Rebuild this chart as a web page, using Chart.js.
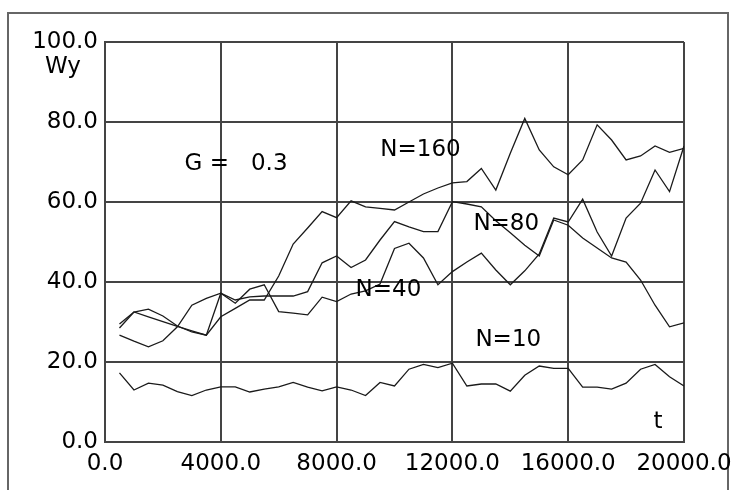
<!DOCTYPE html>
<html>
<head>
<meta charset="utf-8">
<script src="https://cdn.jsdelivr.net/npm/chart.js@4/dist/chart.umd.min.js"></script>
<style>
  html, body { margin: 0; padding: 0; background: #fff; }
  #wrap { width: 731px; height: 490px; }
</style>
</head>
<body>
<div id="wrap"><canvas id="chart" width="731" height="490"></canvas></div>
<script>
// time axis (t)
const tValues = [500, 1000, 1500, 2000, 2500, 3000, 3500, 4000, 4500, 5000,
  5500, 6000, 6500, 7000, 7500, 8000, 8500, 9000, 9500, 10000,
  10500, 11000, 11500, 12000, 12500, 13000, 13500, 14000, 14500, 15000,
  15500, 16000, 16500, 17000, 17500, 18000, 18500, 19000, 19500, 20000];

// Wy for each N
const n10 = [17.3, 13, 14.7, 14.2, 12.6, 11.6, 13, 13.8, 13.8, 12.5,
  13.2, 13.8, 14.9, 13.7, 12.8, 13.8, 13, 11.6, 14.9, 14,
  18.2, 19.4, 18.6, 19.7, 14, 14.5, 14.5, 12.7, 16.7, 19,
  18.4, 18.4, 13.7, 13.7, 13.2, 14.7, 18.2, 19.4, 16.3, 14];
const n40 = [26.7, 25.2, 23.8, 25.3, 28.8, 34.2, 35.9, 37.2, 34.7, 38.2,
  39.3, 32.6, 32.2, 31.8, 36.2, 35.1, 37, 37.8, 39.5, 48.4,
  49.7, 46, 39.3, 42.6, 45, 47.2, 43, 39.3, 42.8, 47,
  56, 55, 60.7, 52.5, 46.5, 56, 59.7, 68, 62.6, 74];
const n80 = [29.5, 32.5, 33.2, 31.5, 29, 27.5, 26.7, 37.2, 35.5, 36.3,
  36.5, 36.5, 36.5, 37.6, 44.8, 46.5, 43.6, 45.5, 50.5, 55.1,
  53.8, 52.6, 52.6, 60.1, 59.5, 58.8, 55.3, 52.3, 49.2, 46.5,
  55.5, 54.2, 51, 48.5, 46, 45, 40.5, 34.2, 28.8, 29.8];
const n160 = [28.5, 32.5, 31.3, 30.1, 28.9, 27.8, 26.7, 31.3, 33.4, 35.5,
  35.5, 41.5, 49.5, 53.5, 57.6, 56.1, 60.3, 58.8, 58.4, 58,
  60, 62, 63.5, 64.8, 65.1, 68.4, 63, 72.2, 80.9, 73,
  68.8, 66.8, 70.5, 79.3, 75.5, 70.5, 71.5, 74, 72.4, 73.4];

const xTicks = [0, 4000, 8000, 12000, 16000, 20000];
const yTicks = [0, 20, 40, 60, 80, 100];

// text written inside the plot, anchored in data units
const noteText = ["N=160", "N=80", "N=40", "N=10", "t", "G =   0.3"];
const noteAt = [[10900, 73], [13860, 54.5], [9790, 38], [13930, 25.5], [19100, 5], [2750, 69.5]];
const noteAlign = ["center", "center", "center", "center", "center", "left"];

const FONT = "DejaVu Sans";
const INK = "#000";

const series = [n10, n40, n80, n160].map(vals => ({
  data: tValues.map((t, i) => ({ x: t, y: vals[i] })),
  borderColor: "#1a1a1a",
  borderWidth: 1.3,
  pointRadius: 0,
  tension: 0,
  fill: false
}));

const frame = {
  id: "frame",
  beforeDraw(chart) {
    const c = chart.ctx;
    c.save();
    c.fillStyle = "#fff";
    c.fillRect(0, 0, chart.width, chart.height);
    c.strokeStyle = "#666";
    c.lineWidth = 2;
    c.strokeRect(8, 13, 720, 484);
    c.restore();
  },
  afterDraw(chart) {
    const c = chart.ctx, xs = chart.scales.x, ys = chart.scales.y;
    c.save();
    c.fillStyle = INK;
    c.font = "23px '" + FONT + "'";
    c.textBaseline = "middle";
    noteText.forEach((txt, i) => {
      c.textAlign = noteAlign[i];
      c.fillText(txt, xs.getPixelForValue(noteAt[i][0]), ys.getPixelForValue(noteAt[i][1]));
    });
    // axis name
    c.textAlign = "left";
    c.fillText("Wy", chart.chartArea.left - 60, ys.getPixelForValue(93.7));
    c.restore();
  }
};

new Chart(document.getElementById("chart"), {
  type: "line",
  data: { datasets: series },
  options: {
    responsive: false,
    animation: false,
    devicePixelRatio: 1,
    layout: { padding: { top: 42, right: 47, bottom: 0, left: 0 } },
    plugins: { legend: { display: false }, tooltip: { enabled: false } },
    scales: {
      x: {
        type: "linear",
        min: 0,
        max: 20000,
        afterBuildTicks: s => { s.ticks = xTicks.map(v => ({ value: v })); },
        afterFit: s => { s.height = 48; s.paddingLeft = 0; s.paddingRight = 0; },
        grid: { color: "#444", lineWidth: 2, drawTicks: false },
        border: { color: "#444", width: 2 },
        ticks: {
          color: INK,
          padding: 8,
          maxRotation: 0,
          font: { family: FONT, size: 23 },
          callback: v => Number(v).toFixed(1)
        }
      },
      y: {
        min: 0,
        max: 100,
        afterBuildTicks: s => { s.ticks = yTicks.map(v => ({ value: v })); },
        afterFit: s => { s.width = 105; s.paddingTop = 0; s.paddingBottom = 0; },
        grid: { color: "#444", lineWidth: 2, drawTicks: false },
        border: { color: "#444", width: 2 },
        ticks: {
          color: INK,
          padding: 7,
          font: { family: FONT, size: 23 },
          callback: v => Number(v).toFixed(1)
        }
      }
    }
  },
  plugins: [frame]
});
</script>
</body>
</html>
